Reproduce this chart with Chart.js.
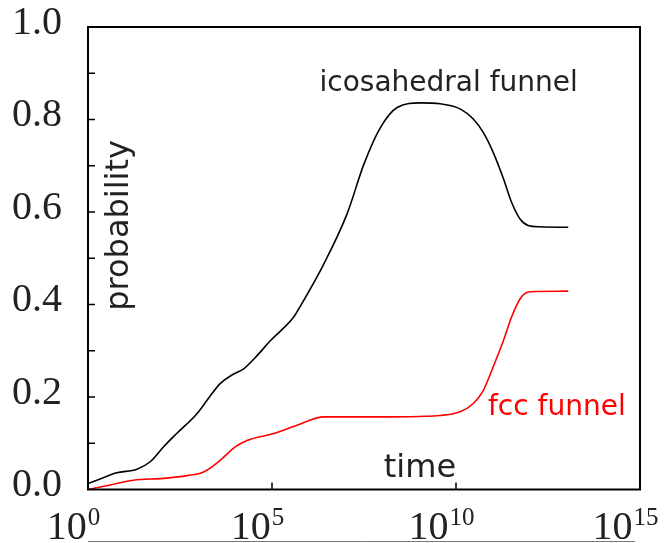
<!DOCTYPE html>
<html>
<head>
<meta charset="utf-8">
<script src="https://cdn.jsdelivr.net/npm/chart.js@4/dist/chart.umd.min.js"></script>
<style>
  html, body { margin: 0; padding: 0; background: #fff; }
  #wrap { width: 669px; height: 543px; position: relative; }
</style>
</head>
<body>
<div id="wrap"><canvas id="c" width="669" height="543"></canvas></div>
<script>
// log10(time) exponents and probabilities
const icoTimeExp = [0, 0.4, 0.78, 1.33, 1.69, 2.05, 2.41, 2.96, 3.3, 3.59, 3.9, 4.23, 4.6, 4.96, 5.59, 5.73, 6.41, 7.04, 7.5, 7.95, 8.4, 9.04, 9.57, 10.11, 10.47, 10.74, 11.01, 11.29, 11.51, 11.74, 11.96, 12.28, 13.05];
const icoProb    = [0.013, 0.025, 0.036, 0.044, 0.060, 0.092, 0.121, 0.164, 0.200, 0.229, 0.247, 0.261, 0.290, 0.322, 0.373, 0.391, 0.488, 0.596, 0.704, 0.783, 0.826, 0.836, 0.834, 0.823, 0.801, 0.772, 0.729, 0.672, 0.621, 0.585, 0.571, 0.568, 0.567];
const fccTimeExp = [0, 0.5, 1.23, 2.05, 2.7, 3.14, 3.59, 4.0, 4.32, 5.05, 5.68, 6.41, 7.95, 9.0, 9.57, 10.11, 10.47, 10.74, 11.01, 11.29, 11.51, 11.74, 11.96, 12.19, 13.05];
const fccProb    = [0.0, 0.008, 0.020, 0.024, 0.030, 0.038, 0.063, 0.092, 0.106, 0.121, 0.139, 0.157, 0.157, 0.158, 0.160, 0.168, 0.186, 0.214, 0.265, 0.322, 0.373, 0.412, 0.427, 0.428, 0.429];
const xTickExps  = [0, 5, 10, 15];
const yMinorTicks = [0.1, 0.2, 0.3, 0.4, 0.5, 0.6, 0.7, 0.8, 0.9];
const seriesLabels = ['icosahedral funnel', 'fcc funnel'];
const xAxisTitle = 'time';
const yAxisTitle = 'probability';

const toPts = (xs, ys) => xs.map((x, i) => ({ x: x, y: ys[i] }));

const decorPlugin = {
  id: 'decor',
  afterDraw(chart) {
    const ctx = chart.ctx;
    const a = chart.chartArea;
    const xs = chart.scales.x, ys = chart.scales.y;
    ctx.save();
    // frame
    ctx.strokeStyle = '#000';
    ctx.lineWidth = 2;
    ctx.strokeRect(a.left, a.top, a.right - a.left, a.bottom - a.top);
    // inward ticks
    ctx.lineWidth = 1.5;
    ctx.beginPath();
    yMinorTicks.forEach(v => {
      const py = ys.getPixelForValue(v);
      ctx.moveTo(a.left, py); ctx.lineTo(a.left + 7, py);
    });
    xTickExps.slice(1, -1).forEach(v => {
      const px = xs.getPixelForValue(v);
      ctx.moveTo(px, a.bottom); ctx.lineTo(px, a.bottom - 7);
    });
    ctx.stroke();
    // x tick labels 10^n
    xTickExps.forEach(v => {
      const px = xs.getPixelForValue(v);
      const base = '10', sup = String(v);
      ctx.font = '40px "Liberation Serif"';
      const wb = ctx.measureText(base).width;
      ctx.font = '25px "Liberation Serif"';
      const ws = ctx.measureText(sup).width;
      const left = px - 15 - (wb + ws) / 2;
      ctx.fillStyle = '#222';
      ctx.textBaseline = 'alphabetic';
      ctx.textAlign = 'left';
      ctx.font = '40px "Liberation Serif"';
      ctx.fillText(base, left, 539);
      ctx.font = '25px "Liberation Serif"';
      ctx.fillText(sup, left + wb + 1, 525);
    });
    // bottom grey rule
    ctx.strokeStyle = '#777';
    ctx.lineWidth = 1;
    ctx.beginPath();
    ctx.moveTo(a.left, 541.5); ctx.lineTo(a.right - 5, 541.5);
    ctx.stroke();
    // axis titles inside the plot
    ctx.fillStyle = '#222';
    ctx.font = '32px "DejaVu Sans"';
    ctx.textAlign = 'center';
    ctx.textBaseline = 'alphabetic';
    ctx.fillText(xAxisTitle, xs.getPixelForValue(9.02), a.bottom - 13);
    ctx.save();
    ctx.translate(a.left + 40, ys.getPixelForValue(0.571));
    ctx.rotate(-Math.PI / 2);
    ctx.fillText(yAxisTitle, 0, 0);
    ctx.restore();
    // series labels
    ctx.font = '28px "DejaVu Sans"';
    ctx.fillStyle = '#222';
    ctx.fillText(seriesLabels[0], xs.getPixelForValue(9.8), ys.getPixelForValue(0.862));
    ctx.fillStyle = '#ff0000';
    ctx.fillText(seriesLabels[1], xs.getPixelForValue(12.74), ys.getPixelForValue(0.161));
    ctx.restore();
  }
};

new Chart(document.getElementById('c'), {
  type: 'line',
  data: {
    datasets: [
      { label: seriesLabels[0], data: toPts(icoTimeExp, icoProb), borderColor: '#000', borderWidth: 1.6, pointRadius: 0, cubicInterpolationMode: 'monotone', fill: false },
      { label: seriesLabels[1], data: toPts(fccTimeExp, fccProb), borderColor: '#ff0000', borderWidth: 1.6, pointRadius: 0, cubicInterpolationMode: 'monotone', fill: false }
    ]
  },
  options: {
    responsive: false,
    animation: false,
    layout: { padding: { top: 27, right: 29, left: 0, bottom: 0 } },
    plugins: { legend: { display: false }, tooltip: { enabled: false } },
    scales: {
      x: {
        type: 'linear', min: 0, max: 15,
        grid: { display: false }, border: { display: false },
        ticks: { display: false },
        afterFit: s => { s.height = 53.5; s.paddingLeft = 0; s.paddingRight = 0; }
      },
      y: {
        min: 0, max: 1,
        grid: { display: false }, border: { display: false },
        ticks: {
          stepSize: 0.2, padding: 18, labelOffset: -4,
          color: '#222',
          font: { family: '"Liberation Serif"', size: 40 },
          callback: v => Number(v).toFixed(1)
        },
        afterFit: s => { s.width = 88; s.paddingTop = 0; s.paddingBottom = 0; }
      }
    }
  },
  plugins: [decorPlugin]
});
</script>
</body>
</html>
